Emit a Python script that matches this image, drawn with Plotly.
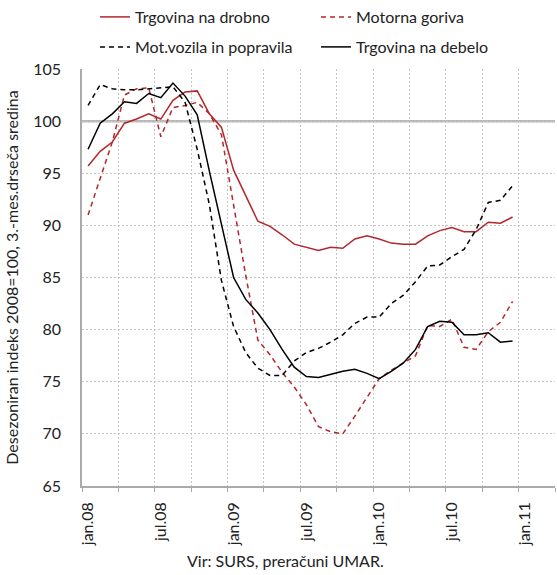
import plotly.graph_objects as go

months = ["jan.08", "feb.08", "mar.08", "apr.08", "maj.08", "jun.08", "jul.08", "avg.08", "sep.08", "okt.08", "nov.08", "dec.08",
          "jan.09", "feb.09", "mar.09", "apr.09", "maj.09", "jun.09", "jul.09", "avg.09", "sep.09", "okt.09", "nov.09", "dec.09",
          "jan.10", "feb.10", "mar.10", "apr.10", "maj.10", "jun.10", "jul.10", "avg.10", "sep.10", "okt.10", "nov.10", "dec.10"]

retail = [95.7, 97.1, 98.0, 99.8, 100.2, 100.7, 100.2, 102.0, 102.8, 102.9, 100.7, 99.4,
          95.3, 92.8, 90.4, 89.9, 89.1, 88.2, 87.9, 87.6, 87.9, 87.8, 88.7, 89.0,
          88.7, 88.3, 88.2, 88.2, 89.0, 89.5, 89.8, 89.4, 89.4, 90.3, 90.2, 90.8]
fuels = [91.0, 94.6, 98.0, 102.5, 103.1, 103.2, 98.5, 101.3, 101.5, 101.8, 100.7, 98.7,
         92.0, 85.2, 79.0, 77.6, 75.9, 74.5, 72.8, 70.7, 70.2, 70.0, 71.7, 73.5,
         75.3, 76.1, 76.8, 77.5, 80.4, 80.3, 81.0, 78.3, 78.1, 79.8, 80.7, 82.7]
vehicles = [101.5, 103.5, 103.1, 103.0, 103.0, 103.1, 103.2, 103.3, 101.8, 97.3, 92.0, 84.7,
            80.3, 77.8, 76.3, 75.6, 75.6, 77.0, 77.8, 78.2, 78.8, 79.5, 80.6, 81.2,
            81.2, 82.5, 83.3, 84.6, 86.1, 86.2, 87.0, 87.7, 89.6, 92.2, 92.4, 93.8]
wholesale = [97.3, 99.8, 100.7, 101.85, 101.7, 102.65, 102.25, 103.65, 102.4, 100.6, 95.2, 90.0,
             85.0, 82.9, 81.6, 80.0, 78.1, 76.4, 75.5, 75.4, 75.7, 76.0, 76.2, 75.8,
             75.3, 76.0, 76.8, 78.1, 80.3, 80.8, 80.7, 79.5, 79.5, 79.7, 78.8, 78.9]

tick_labels = ["jan.08", "jul.08", "jan.09", "jul.09", "jan.10", "jul.10", "jan.11"]
tick_positions = [0, 6, 12, 18, 24, 30, 36]

x = list(range(len(months)))
RED = "#b3262b"
DASH = "5px,4px"
FONT = "Lato"
FS = 16

fig = go.Figure()
fig.add_trace(go.Scatter(x=x, y=retail, name="Trgovina na drobno", mode="lines",
                         line=dict(color=RED, width=1.5), legend="legend"))
fig.add_trace(go.Scatter(x=x, y=fuels, name="Motorna goriva", mode="lines",
                         line=dict(color=RED, width=1.5, dash=DASH), legend="legend"))
fig.add_trace(go.Scatter(x=x, y=vehicles, name="Mot.vozila in popravila", mode="lines",
                         line=dict(color="#000000", width=1.5, dash=DASH), legend="legend2"))
fig.add_trace(go.Scatter(x=x, y=wholesale, name="Trgovina na debelo", mode="lines",
                         line=dict(color="#000000", width=1.5), legend="legend2"))

grid_col = "#c4c4c4"
axis_col = "#aaaaaa"

leg_common = dict(orientation="h", x=13 / 473, xanchor="left", yanchor="middle",
                  entrywidth=176, font=dict(size=FS), bgcolor="rgba(0,0,0,0)", borderwidth=0)

fig.update_layout(
    width=557, height=575,
    margin=dict(l=82, r=2, t=69, b=89, autoexpand=False),
    paper_bgcolor="white", plot_bgcolor="white",
    font=dict(family=FONT, size=FS, color="#222222"),
    legend=dict(y=(486 - 17) / 417, **leg_common),
    legend2=dict(y=(486 - 47) / 417, **leg_common),
    xaxis=dict(range=[-0.5, 38.5], tickmode="array", tickvals=tick_positions, ticktext=tick_labels,
               tickangle=-90, showgrid=False, ticks="", zeroline=False,
               showline=True, linecolor=axis_col, linewidth=1.5,
               ticklabelstandoff=8, tickfont=dict(size=FS),
               minor=dict(tickmode="array", tickvals=[i - 0.5 for i in range(0, 40, 3)],
                          ticks="outside", ticklen=4, tickcolor=axis_col,
                          showgrid=True, gridcolor=grid_col, griddash="2px,2px", gridwidth=1)),
    yaxis=dict(range=[65, 105], dtick=5, tick0=65, showgrid=True, gridcolor=grid_col,
               griddash="2px,2px", gridwidth=1, zeroline=False,
               showline=True, linecolor=axis_col, linewidth=1.5, ticks="",
               ticklabelstandoff=16, tickfont=dict(size=FS),
               title=dict(text="Desezoniran indeks 2008=100, 3.-mes.drseča sredina",
                          font=dict(size=FS), standoff=11)),
    showlegend=True,
)

fig.add_shape(type="line", xref="paper", x0=0, x1=1, yref="y", y0=100, y1=100,
              line=dict(color="#b8b8b8", width=2.5), layer="below")

fig.add_annotation(text="Vir: SURS, preračuni UMAR.", xref="paper", yref="paper",
                   x=(285 - 82) / 473, y=(486 - 560) / 417, xanchor="center", yanchor="middle",
                   showarrow=False, font=dict(size=FS, color="#222222"))

fig.write_html("out.html", config={"displayModeBar": False},
               post_script="document.body.style.margin='0';")
